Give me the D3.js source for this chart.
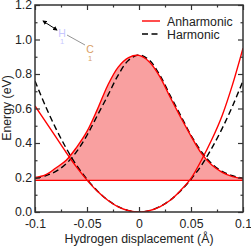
<!DOCTYPE html>
<html>
<head>
<meta charset="utf-8">
<script src="https://cdn.jsdelivr.net/npm/d3@7/dist/d3.min.js"></script>
<style>
html, body { margin: 0; padding: 0; background: #fff; }
svg { display: block; }
text { font-family: "Liberation Sans", Arial, sans-serif; fill: #222; }
</style>
</head>
<body>
<div id="chart"></div>
<script>
// values
const xs = [-0.1, -0.09, -0.08, -0.07, -0.06, -0.05, -0.04, -0.03, -0.02, -0.01, 0, 0.01, 0.02, 0.03, 0.04, 0.05, 0.06, 0.07, 0.08, 0.09, 0.1]
const wellAnharmonic = [0.615, 0.525, 0.435, 0.345, 0.26, 0.185, 0.12, 0.068, 0.03, 0.008, 0, 0.008, 0.03, 0.068, 0.125, 0.195, 0.3, 0.42, 0.56, 0.74, 0.95]
const wellHarmonic = [0.76, 0.615, 0.485, 0.37, 0.27, 0.19, 0.122, 0.069, 0.031, 0.008, 0, 0.008, 0.031, 0.069, 0.122, 0.19, 0.27, 0.37, 0.485, 0.615, 0.76]
const barrierAnharmonic = [0.2, 0.215, 0.255, 0.3, 0.375, 0.467, 0.595, 0.735, 0.84, 0.895, 0.908, 0.87, 0.785, 0.665, 0.55, 0.44, 0.34, 0.272, 0.23, 0.205, 0.193]
const barrierHarmonic = [0.195, 0.21, 0.235, 0.28, 0.35, 0.445, 0.56, 0.675, 0.794, 0.88, 0.91, 0.88, 0.794, 0.675, 0.56, 0.445, 0.35, 0.28, 0.235, 0.21, 0.195]
const zeroPointLevel = 0.183
const xTicks = [-0.1, -0.05, 0, 0.05, 0.1]
const xTickLabels = ['-0.1', '-0.05', '0', '0.05', '0.1']
const xMinorTicks = [-0.075, -0.025, 0.025, 0.075]
const yTicks = [0, 0.2, 0.4, 0.6, 0.8, 1.0, 1.2]
const yMinorTicks = [0.1, 0.3, 0.5, 0.7, 0.9, 1.1]
const legendLabels = ['Anharmonic', 'Harmonic']

const margin = {top: 5, right: 8, bottom: 35, left: 35},
	width = 251,
	height = 247,
	fontSize = 12.3

const svg = d3.select('#chart').append('svg').attr('width', width).attr('height', height)

const x = d3.scaleLinear().domain([-0.1, 0.1]).range([margin.left, width - margin.right])
const y = d3.scaleLinear().domain([0, 1.2]).range([height - margin.bottom, margin.top])

svg.append('clipPath').attr('id', 'plot').append('rect')
	.attr('x', x(-0.1)).attr('y', y(1.2))
	.attr('width', x(0.1) - x(-0.1)).attr('height', y(0) - y(1.2))
const plot = svg.append('g').attr('clip-path', 'url(#plot)')

const pts = vals => xs.map((d, i) => [d, vals[i]])
const line = d3.line().x(d => x(d[0])).y(d => y(d[1])).curve(d3.curveCatmullRom)

// shaded area between the level and the barrier
const area = d3.area().x(d => x(d[0])).y0(y(zeroPointLevel)).y1(d => y(d[1])).curve(d3.curveCatmullRom)
plot.append('path').attr('d', area(pts(barrierAnharmonic))).attr('fill', '#f9a0a0')

plot.append('line')
	.attr('x1', x(-0.1)).attr('x2', x(0.1))
	.attr('y1', y(zeroPointLevel)).attr('y2', y(zeroPointLevel))
	.attr('stroke', '#f00').attr('stroke-width', 1.2)

const curves = [
	[wellHarmonic, 'harm'], [barrierHarmonic, 'harm'],
	[wellAnharmonic, 'anh'], [barrierAnharmonic, 'anh']
]
curves.forEach(([vals, type]) => {
	plot.append('path')
		.attr('d', line(pts(vals)))
		.attr('fill', 'none')
		.attr('stroke', type === 'anh' ? '#f00' : '#000')
		.attr('stroke-width', 1.4)
		.attr('stroke-dasharray', type === 'anh' ? null : '6,3.5')
})

// axes, ticks on all four sides pointing in
const axisColour = '#333'
function styleAxis(g) {
	g.select('.domain').remove()
	g.selectAll('line').attr('stroke', axisColour).attr('stroke-width', 1.2)
	g.selectAll('text').attr('font-size', fontSize).attr('font-family', '"Liberation Sans"').attr('fill', '#222')
}

svg.append('g').attr('transform', `translate(0,${y(0)})`)
	.call(d3.axisBottom(x).tickValues(xTicks).tickSize(-5).tickPadding(7).tickFormat((d, i) => xTickLabels[i]))
	.call(styleAxis)
svg.append('g').attr('transform', `translate(0,${y(1.2)})`)
	.call(d3.axisTop(x).tickValues(xTicks).tickSize(-5).tickFormat(() => null))
	.call(styleAxis).call(g => g.selectAll('text').remove())
svg.append('g').attr('transform', `translate(0,${y(0)})`)
	.call(d3.axisBottom(x).tickValues(xMinorTicks).tickSize(-2.5).tickFormat(() => null))
	.call(styleAxis).call(g => g.selectAll('text').remove())
svg.append('g').attr('transform', `translate(0,${y(1.2)})`)
	.call(d3.axisTop(x).tickValues(xMinorTicks).tickSize(-2.5).tickFormat(() => null))
	.call(styleAxis).call(g => g.selectAll('text').remove())

svg.append('g').attr('transform', `translate(${x(-0.1)},0)`)
	.call(d3.axisLeft(y).tickValues(yTicks).tickSize(-5).tickPadding(3).tickFormat(d3.format('.1f')))
	.call(styleAxis)
svg.append('g').attr('transform', `translate(${x(0.1)},0)`)
	.call(d3.axisRight(y).tickValues(yTicks).tickSize(-5).tickFormat(() => null))
	.call(styleAxis).call(g => g.selectAll('text').remove())
svg.append('g').attr('transform', `translate(${x(-0.1)},0)`)
	.call(d3.axisLeft(y).tickValues(yMinorTicks).tickSize(-2.5).tickFormat(() => null))
	.call(styleAxis).call(g => g.selectAll('text').remove())
svg.append('g').attr('transform', `translate(${x(0.1)},0)`)
	.call(d3.axisRight(y).tickValues(yMinorTicks).tickSize(-2.5).tickFormat(() => null))
	.call(styleAxis).call(g => g.selectAll('text').remove())

svg.append('rect')
	.attr('x', x(-0.1)).attr('y', y(1.2))
	.attr('width', x(0.1) - x(-0.1)).attr('height', y(0) - y(1.2))
	.attr('fill', 'none').attr('stroke', axisColour).attr('stroke-width', 1.5)

// axis titles
svg.append('text').attr('x', 139).attr('y', 243).attr('text-anchor', 'middle').attr('font-size', fontSize)
	.text('Hydrogen displacement (Å)')
svg.append('text').attr('transform', 'translate(11,108) rotate(-90)').attr('text-anchor', 'middle').attr('font-size', fontSize)
	.text('Energy (eV)')

// legend
legendLabels.forEach((label, i) => {
	const ly = 21 + i * 13
	svg.append('line').attr('x1', 142).attr('x2', 160).attr('y1', ly).attr('y2', ly)
		.attr('stroke', i === 0 ? '#f00' : '#000').attr('stroke-width', 1.4)
		.attr('stroke-dasharray', i === 0 ? null : '6,3.5')
	svg.append('text').attr('x', 167).attr('y', ly + 5).attr('font-size', fontSize).text(label)
})

// molecule inset
svg.append('defs').append('marker').attr('id', 'head').attr('viewBox', '0 0 6 6').attr('refX', 5).attr('refY', 3)
	.attr('markerWidth', 4.5).attr('markerHeight', 4.5).attr('orient', 'auto-start-reverse')
	.append('path').attr('d', 'M0,0L6,3L0,6Z').attr('fill', '#000')
svg.append('line').attr('x1', 43).attr('y1', 21).attr('x2', 57).attr('y2', 30)
	.attr('stroke', '#000').attr('stroke-width', 1)
	.attr('marker-start', 'url(#head)').attr('marker-end', 'url(#head)')
svg.append('line').attr('x1', 67).attr('y1', 35).attr('x2', 85).attr('y2', 45).attr('stroke', '#666').attr('stroke-width', 0.7)
svg.append('text').attr('x', 62).attr('y', 36.5).attr('text-anchor', 'middle').attr('font-size', 10.5).style('fill', '#c8c8ff').text('H')
svg.append('text').attr('x', 62).attr('y', 44).attr('text-anchor', 'middle').attr('font-size', 7.5).style('fill', '#c8c8ff').text('1')
svg.append('text').attr('x', 90).attr('y', 53).attr('text-anchor', 'middle').attr('font-size', 10.5).style('fill', '#d9a066').text('C')
svg.append('text').attr('x', 90).attr('y', 60.5).attr('text-anchor', 'middle').attr('font-size', 7.5).style('fill', '#d9a066').text('1')
</script>
</body>
</html>
